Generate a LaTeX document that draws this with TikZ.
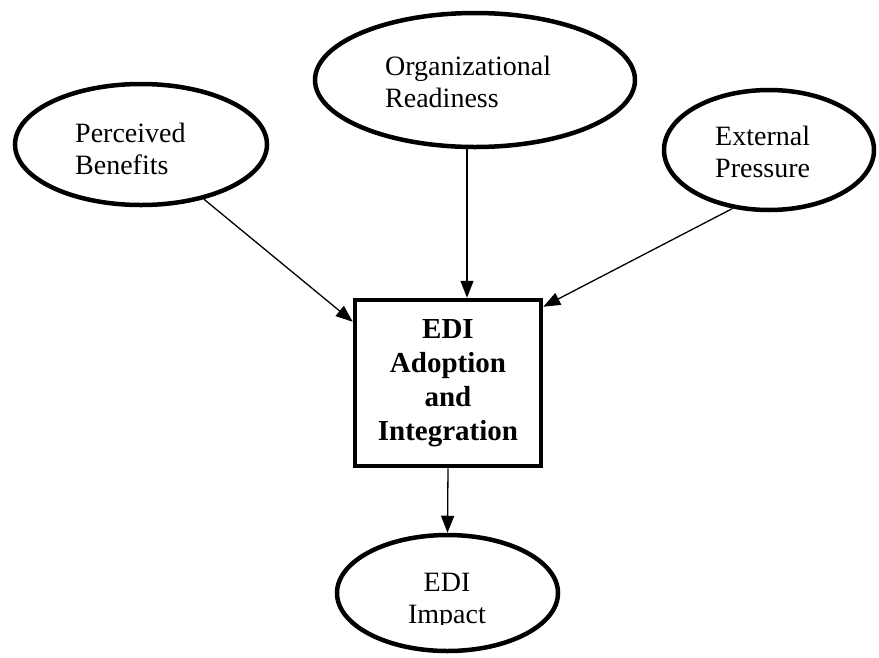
\documentclass[tikz,border=0pt]{standalone}
\usepackage{fontspec}
\setmainfont{Liberation Serif}
\usetikzlibrary{shapes.geometric,arrows.meta}

\tikzset{
  factor/.style={ellipse, draw, line width=4.5pt, inner sep=0pt},
  corebox/.style={rectangle, draw, line width=4.5pt, inner sep=0pt},
  lbl/.style={inner sep=0pt, font=\fontsize{28}{32}\selectfont},
  boldlbl/.style={inner sep=0pt, align=center, font=\fontsize{29}{34}\selectfont\bfseries},
  link/.style={line width=1.3pt, -{Triangle[length=17pt,width=13pt]}}
}

\begin{document}
\begin{tikzpicture}[x=1pt,y=-1pt]
\useasboundingbox (0,0) rectangle (879,657);

% outer shapes
\node[factor, minimum width=252pt, minimum height=121pt] (pb) at (141,144.5) {};
\node[factor, minimum width=320pt, minimum height=134pt] (or) at (475,80) {};
\node[factor, minimum width=210pt, minimum height=120pt] (ep) at (769,150) {};
\node[corebox, minimum width=186pt, minimum height=166pt] (box) at (448,383) {};
\node[factor, minimum width=221pt, minimum height=116pt] (ei) at (447.5,593) {};

% labels (anchored on the baseline of their last line)
\node[lbl, align=left, anchor=base west] (pbt) at (75,174) {Perceived\\Benefits};
\node[lbl, align=left, anchor=base west] (ort) at (385,107) {Organizational\\Readiness};
\node[lbl, align=left, anchor=base west] (ept) at (715,177) {External\\Pressure};
\node[boldlbl, anchor=base] (boxt) at (448,440) {EDI\\Adoption\\and\\Integration};
\begin{scope}
  \clip (330,540) rectangle (565,624.5);
  \node[lbl, align=center, anchor=base] (eit) at (447,623) {EDI\\Impact};
\end{scope}

% influences
\draw[link] (pb.-41) -- ([yshift=-24pt]box.north west);
\draw[link] ([xshift=-8pt]or.south) -- ([xshift=19pt]box.north);
\draw[link] (ep.-122) -- ([yshift=-9pt]box.north east);
\draw[link] (box.south) -- (ei.north);
\end{tikzpicture}
\end{document}
